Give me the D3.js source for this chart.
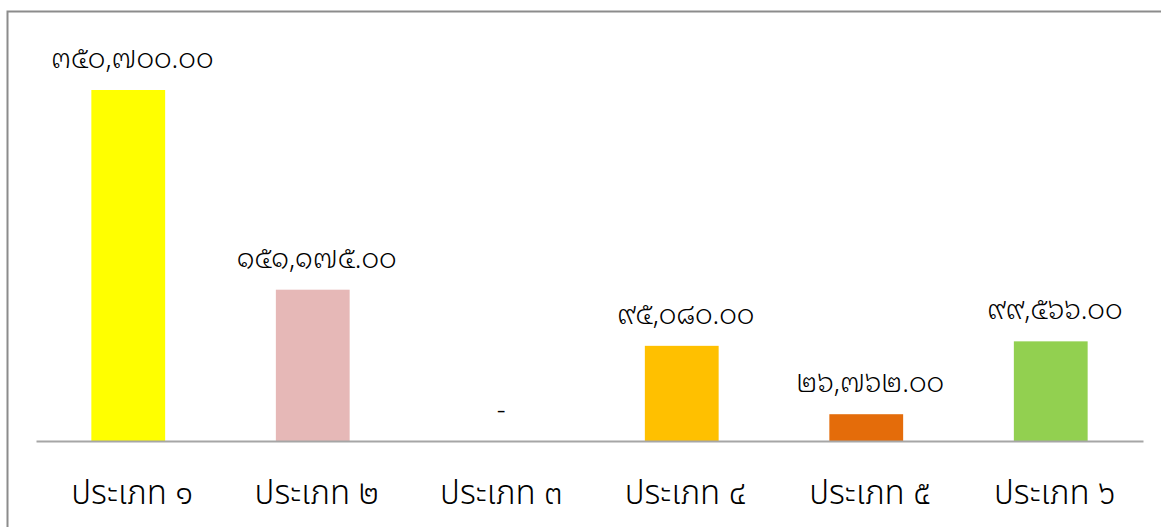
<!DOCTYPE html>
<html lang="th">
<head>
<meta charset="utf-8">
<title>Bar chart</title>
<script src="https://cdn.jsdelivr.net/npm/d3@7"></script>
<style>
  body { margin: 0; background: #fff; }
  .cat { font-family: "Noto Sans Thai", "Noto Sans", sans-serif; font-weight: 300; fill: #000; }
  .val { font-family: "Noto Sans Thai Looped", "Noto Sans Thai", sans-serif; font-weight: 300; fill: #000; }
</style>
</head>
<body>
<script>
// chart data
var categories = ["ประเภท ๑", "ประเภท ๒", "ประเภท ๓", "ประเภท ๔", "ประเภท ๕", "ประเภท ๖"];
var values = [350700, 151175, 0, 95080, 26762, 99566];
var colors = ["#FFFF00", "#E6B8B7", "#A5A5A5", "#FFC000", "#E46C0A", "#92D050"];

var width = 1161, height = 527;
var thaiDigits = "๐๑๒๓๔๕๖๗๘๙";

function thaiNum(v) {
    if (v === 0) return "-";
    var s = d3.format(",.2f")(v);
    return s.replace(/[0-9]/g, function (c) { return thaiDigits[+c]; });
}

var svg = d3.select("body").append("svg")
    .attr("width", width)
    .attr("height", height);

// chart border
svg.append("rect")
    .attr("x", 7.5).attr("y", 11.5)
    .attr("width", 1170).attr("height", 540)
    .attr("fill", "none")
    .attr("stroke", "#8c8c8c")
    .attr("stroke-width", 2);

var x = d3.scaleBand()
    .domain(categories)
    .range([36, 1143])
    .paddingInner(0.6)
    .paddingOuter(0.3);

var y = d3.scaleLinear()
    .domain([0, 350700])
    .range([441, 90]);

svg.selectAll(".bar")
    .data(values)
    .enter()
    .append("rect")
    .attr("class", "bar")
    .attr("x", function (d, i) { return x(categories[i]); })
    .attr("y", function (d) { return y(d); })
    .attr("width", x.bandwidth())
    .attr("height", function (d) { return y(0) - y(d); })
    .attr("fill", function (d, i) { return colors[i]; });

// axis line + category labels
var axis = svg.append("g")
    .attr("transform", "translate(0," + y(0) + ")")
    .call(d3.axisBottom(x).tickSize(0));
axis.select(".domain")
    .attr("stroke", "#a6a6a6")
    .attr("stroke-width", 2);
axis.selectAll("text")
    .attr("class", "cat")
    .attr("y", 63)
    .attr("dy", null)
    .attr("dx", 4)
    .attr("font-family", null)
    .attr("font-size", null)
    .style("font-size", "33px");

// value labels
svg.selectAll(".val")
    .data(values)
    .enter()
    .append("text")
    .attr("class", "val")
    .attr("x", function (d, i) { return x(categories[i]) + x.bandwidth() / 2 + 4; })
    .attr("y", function (d) { return y(d) - 22; })
    .attr("text-anchor", "middle")
    .style("font-size", "27.5px")
    .text(function (d) { return thaiNum(d); });
</script>
</body>
</html>
